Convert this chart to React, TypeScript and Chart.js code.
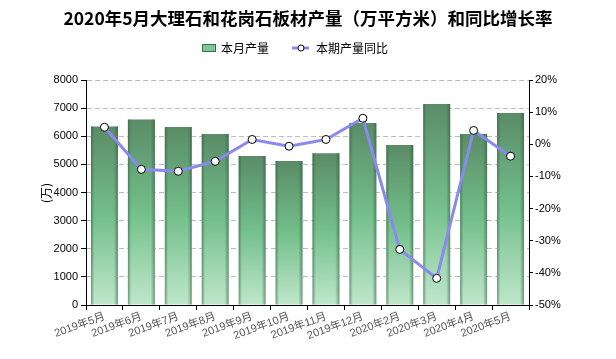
import React, { useEffect, useRef } from "react";
import { Chart, registerables } from "chart.js";

Chart.register(...registerables);

const TITLE = "2020年5月大理石和花岗石板材产量（万平方米）和同比增长率";
const categories = [
  "2019年5月", "2019年6月", "2019年7月", "2019年8月", "2019年9月", "2019年10月",
  "2019年11月", "2019年12月", "2020年2月", "2020年3月", "2020年4月", "2020年5月",
];
const output = [6350, 6600, 6330, 6080, 5300, 5120, 5400, 6470, 5690, 7150, 6080, 6830];
const yoy = [5.3, -7.8, -8.4, -5.3, 1.5, -0.6, 1.5, 8.1, -32.7, -41.7, 4.3, -3.7];
const barLabel = "本月产量";
const lineLabel = "本期产量同比";
const yTitle = "(万)";

const CJK = '"Liberation Sans", "Noto Sans CJK SC", sans-serif';

const overlayPlugin = {
  id: "customDeco",
  afterDatasetDraw(chart: any, args: any) {
    if (args.index !== 0) return;
    const ctx = chart.ctx;
    const meta = chart.getDatasetMeta(0);
    ctx.save();
    meta.data.forEach((el: any) => {
      const p = el.getProps(["x", "y", "base", "width"], true);
      const l = p.x - p.width / 2;
      const g = ctx.createLinearGradient(l, 0, l + p.width, 0);
      g.addColorStop(0, "rgba(45,85,58,0.55)");
      g.addColorStop(0.12, "rgba(45,85,58,0)");
      g.addColorStop(0.85, "rgba(45,85,58,0)");
      g.addColorStop(1, "rgba(45,85,58,0.55)");
      ctx.fillStyle = g;
      ctx.fillRect(l, p.y, p.width, p.base - p.y);
    });
    ctx.restore();
  },
  afterDraw(chart: any) {
    const ctx = chart.ctx;
    ctx.save();
    // title
    ctx.fillStyle = "#000";
    ctx.font = 'bold 17.5px "Noto Sans CJK SC", sans-serif';
    ctx.textAlign = "center";
    ctx.textBaseline = "middle";
    ctx.fillText(TITLE, 308, 18);
    // legend
    ctx.font = '12px "Noto Sans CJK SC", sans-serif';
    ctx.textAlign = "left";
    ctx.fillStyle = "#7cc796";
    ctx.fillRect(202, 44, 14, 8);
    ctx.strokeStyle = "#3c6e4b";
    ctx.lineWidth = 1;
    ctx.strokeRect(202.5, 44.5, 13, 7);
    ctx.fillStyle = "#000";
    ctx.fillText(barLabel, 221, 48);
    ctx.strokeStyle = "#8a8aee";
    ctx.lineWidth = 3;
    ctx.beginPath();
    ctx.moveTo(292, 48);
    ctx.lineTo(309, 48);
    ctx.stroke();
    ctx.beginPath();
    ctx.arc(301, 48, 3, 0, Math.PI * 2);
    ctx.fillStyle = "#fff";
    ctx.fill();
    ctx.lineWidth = 1;
    ctx.strokeStyle = "#000";
    ctx.stroke();
    ctx.fillStyle = "#000";
    ctx.fillText(lineLabel, 316, 48);
    // y title
    ctx.translate(46, 193);
    ctx.rotate(-Math.PI / 2);
    ctx.textAlign = "center";
    ctx.font = '12px "Noto Sans CJK SC", sans-serif';
    ctx.fillText(yTitle, 0, 0);
    ctx.restore();
  },
};

export default function App() {
  const ref = useRef<HTMLCanvasElement>(null);
  useEffect(() => {
    if (!ref.current) return;
    const chart = new Chart(ref.current, {
      type: "bar",
      data: {
        labels: categories,
        datasets: [
          {
            type: "bar",
            label: barLabel,
            data: output,
            yAxisID: "y",
            order: 1,
            categoryPercentage: 1,
            barPercentage: 0.73,
            borderWidth: 0,
            backgroundColor: (c: any) => {
              const ch = c.chart;
              const area = ch.chartArea;
              if (!area || c.raw == null) return "#72bd89";
              const top = ch.scales.y.getPixelForValue(c.raw);
              const g = ch.ctx.createLinearGradient(0, top, 0, area.bottom);
              g.addColorStop(0, "#5a8c67");
              g.addColorStop(0.5, "#73bf8b");
              g.addColorStop(1, "#bfe7cb");
              return g;
            },
          } as any,
          {
            type: "line",
            label: lineLabel,
            data: yoy,
            yAxisID: "y1",
            order: 0,
            borderColor: "#8a8aee",
            borderWidth: 3,
            tension: 0,
            pointRadius: 4,
            pointBackgroundColor: "#fff",
            pointBorderColor: "#000",
            pointBorderWidth: 1,
          } as any,
        ],
      },
      options: {
        animation: false,
        responsive: false,
        devicePixelRatio: 1,
        layout: { padding: { top: 80, left: 0, right: 0, bottom: 0 } },
        plugins: {
          legend: { display: false },
          title: { display: false },
          tooltip: { enabled: false },
        },
        scales: {
          x: {
            type: "category",
            offset: true,
            grid: {
              drawOnChartArea: false,
              drawTicks: true,
              tickLength: 5,
              tickColor: "#000",
            },
            border: { color: "#000", width: 1 },
            ticks: {
              minRotation: 20,
              maxRotation: 20,
              autoSkip: false,
              color: "#555",
              padding: 0,
              font: { size: 11, family: CJK },
            },
            afterFit: (s: any) => {
              s.height = 54;
            },
          },
          y: {
            position: "left",
            min: 0,
            max: 8000,
            ticks: {
              stepSize: 1000,
              color: "#000",
              padding: 3,
              font: { size: 11, family: CJK },
              callback: (v: any) => String(v),
            },
            grid: {
              color: "#bdbdbd",
              tickColor: "#000",
              tickLength: 5,
              lineWidth: 1,
            },
            border: { color: "#000", width: 1, dash: [5, 3] },
            afterFit: (s: any) => {
              s.width = 86;
            },
          },
          y1: {
            position: "right",
            min: -50,
            max: 20,
            ticks: {
              stepSize: 10,
              color: "#000",
              padding: 2,
              font: { size: 11, family: CJK },
              callback: (v: any) => v + "%",
            },
            grid: {
              drawOnChartArea: false,
              tickColor: "#000",
              tickLength: 4,
            },
            border: { color: "#000", width: 1 },
            afterFit: (s: any) => {
              s.width = 87;
            },
          },
        },
      },
      plugins: [overlayPlugin],
    });
    return () => chart.destroy();
  }, []);
  return (
    <div style={{ position: "absolute", left: 0, top: 0, width: 616, height: 359, background: "#fff" }}>
      <canvas ref={ref} width={616} height={359} />
    </div>
  );
}
